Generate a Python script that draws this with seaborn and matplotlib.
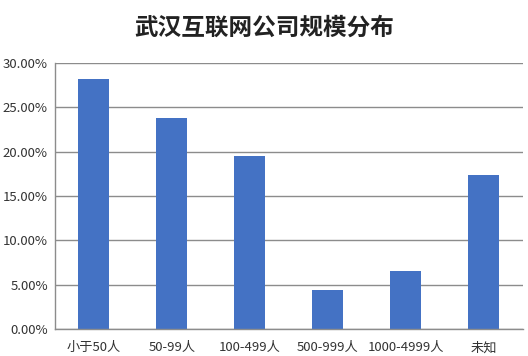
import matplotlib
matplotlib.use("Agg")
import matplotlib.pyplot as plt
import seaborn as sns
import pandas as pd
from matplotlib.ticker import PercentFormatter

categories = ["小于50人", "50-99人", "100-499人", "500-999人", "1000-4999人", "未知"]
values = [28.2, 23.8, 19.5, 4.4, 6.5, 17.4]
title = "武汉互联网公司规模分布"

sns.set_theme(style="white")
plt.rcParams['font.family'] = ['Noto Sans CJK SC', 'DejaVu Sans']

df = pd.DataFrame({"cat": categories, "val": values})
fig = plt.figure(figsize=(5.28, 3.56), dpi=100)
ax = fig.add_axes([0.104, 0.076, 0.886, 0.747])
sns.barplot(data=df, x="cat", y="val", color="#4472C4", width=0.4, saturation=1,
            linewidth=0, ax=ax)
ax.set_ylim(0, 30)
ax.set_yticks([0, 5, 10, 15, 20, 25, 30])
ax.yaxis.set_major_formatter(PercentFormatter(decimals=2))
ax.set_xlabel("")
ax.set_ylabel("")
ax.grid(axis="y", color="#8c8c8c", linewidth=1)
ax.set_axisbelow(True)
for s in ["top", "right"]:
    ax.spines[s].set_visible(False)
for s in ["left", "bottom"]:
    ax.spines[s].set_color("#8c8c8c")
    ax.spines[s].set_linewidth(1)
ax.tick_params(axis="both", labelsize=9.5, colors="#333333", length=0)
ax.tick_params(axis="x", pad=9)
ax.tick_params(axis="y", pad=5)
fig.text(0.5, 0.922, title, ha="center", va="center", fontsize=17, fontweight="bold", color="#222222")
fig.savefig("out.png", dpi=100)
